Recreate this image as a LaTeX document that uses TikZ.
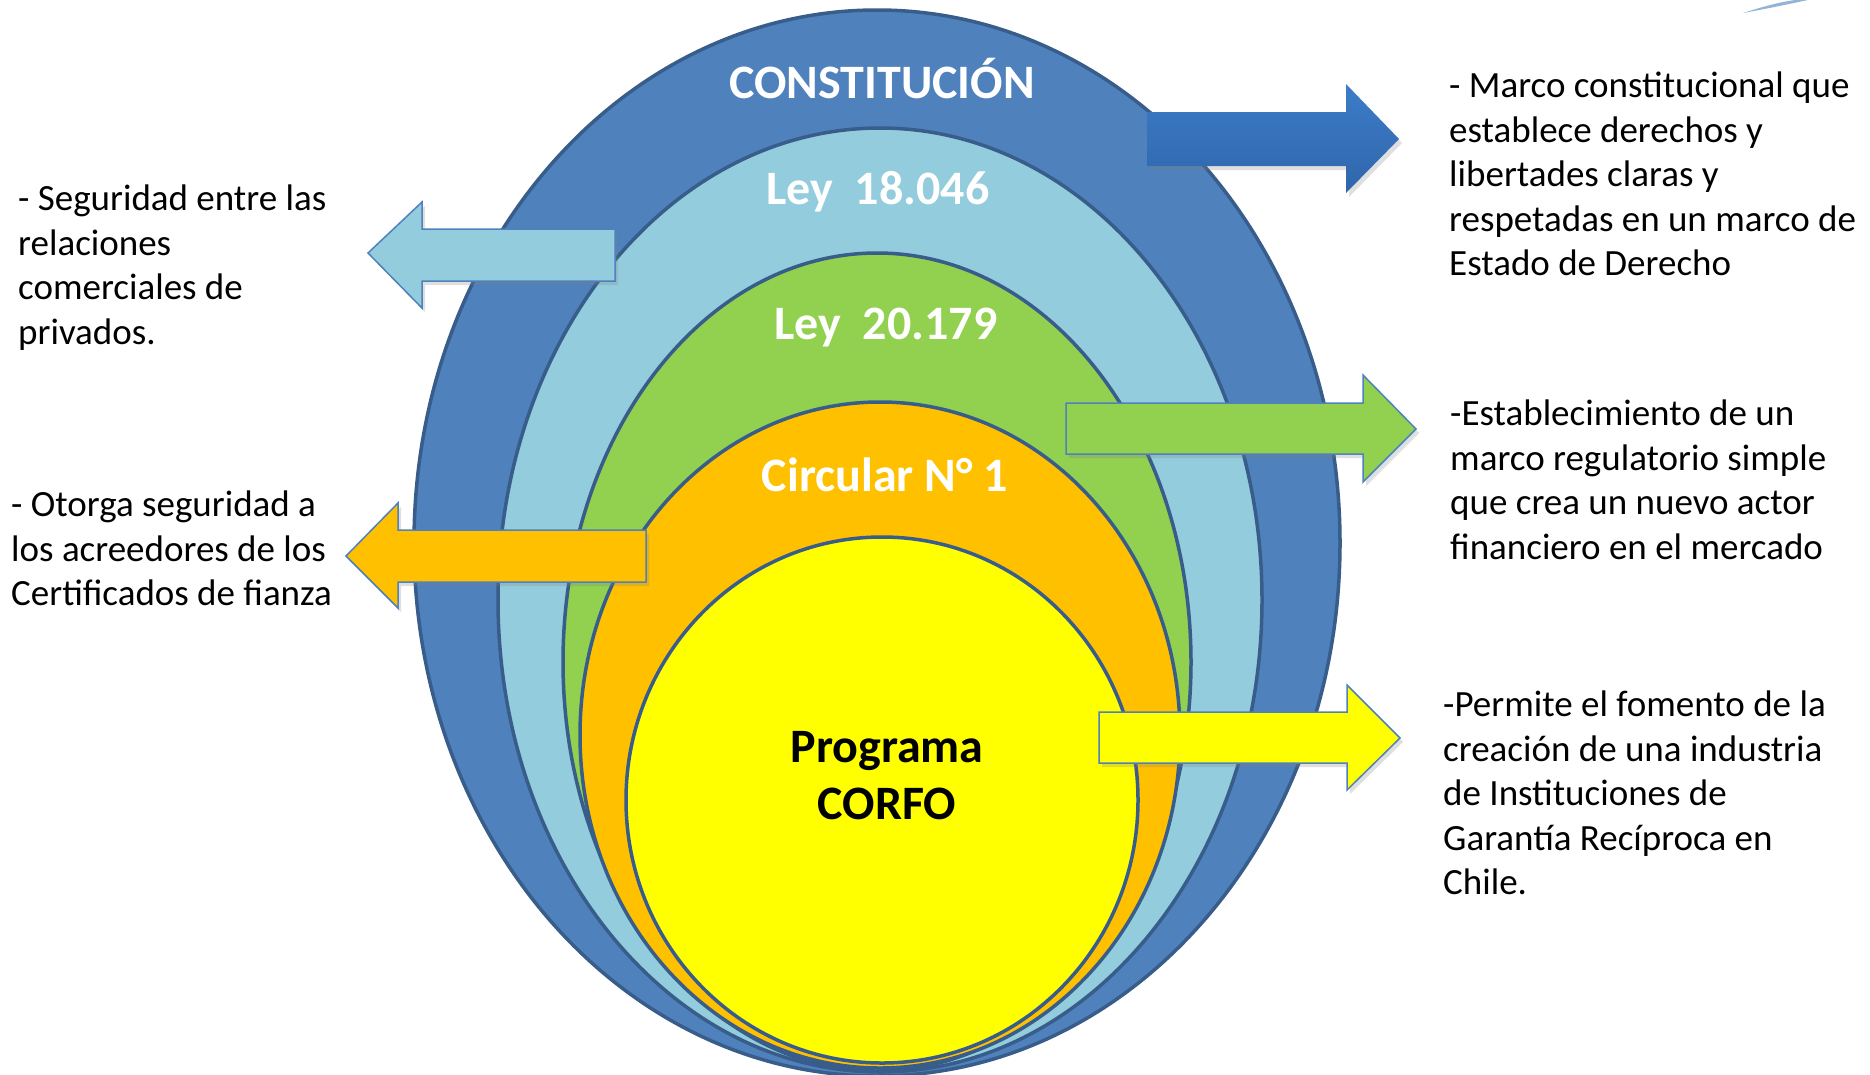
\documentclass[tikz,border=0pt]{standalone}
\usepackage{fontspec}
\setmainfont{Carlito}
\usetikzlibrary{shadows}
\definecolor{azul}{HTML}{4F81BD}
\definecolor{celeste}{HTML}{93CDDD}
\definecolor{verde}{HTML}{92D050}
\definecolor{naranjo}{HTML}{FFC000}
\definecolor{amarillo}{HTML}{FFFF00}
\definecolor{borde}{HTML}{385D8A}
\definecolor{azulsup}{HTML}{3D7CC9}
\definecolor{azulinf}{HTML}{2F66AA}

\begin{document}
\begin{tikzpicture}[x=1pt,y=-1pt,
  capa/.style={draw=borde,line width=3.5pt},
  flecha/.style={draw=azul,line width=1.5pt,line join=miter,
    drop shadow={opacity=0.25,shadow xshift=3pt,shadow yshift=-4pt}},
  titulo/.style={font=\fontsize{48}{57}\selectfont\bfseries,text=white},
  texto/.style={font=\fontsize{37}{44.5}\selectfont,align=left,anchor=north west,inner sep=0pt}]
\clip (0,0) rectangle (1870,1074);
\useasboundingbox (0,0) rectangle (1870,1074);
% capas
\draw[capa,fill=azul] (877,543) ellipse [x radius=463,y radius=533];
\draw[capa,fill=celeste] (880,600) ellipse [x radius=382,y radius=472];
\draw[capa,fill=verde] (877,662) ellipse [x radius=314,y radius=409];
\draw[capa,fill=naranjo] (880,735) ellipse [x radius=300,y radius=333];
\draw[capa,fill=amarillo] (882,800) ellipse [x radius=256,y radius=263];
\node[titulo] (constitucion) at (882,79) {CONSTITUCIÓN};
\node[titulo] (ley1) at (878,192) {Ley\ \ 18.046};
\node[titulo] (ley2) at (886,328) {Ley\ \ 20.179};
\node[titulo] (circular) at (885,475) {Circular N° 1};
\node[titulo,text=black,align=center] (corfo) at (887,776) {Programa\\CORFO};
% flechas
\draw[flecha,draw=none,top color=azulsup,bottom color=azulinf]
  (1147,112) -- (1346,112) -- (1346,84) -- (1399,139) -- (1346,193) -- (1346,166) -- (1147,166) -- cycle;
\draw[flecha,fill=celeste]
  (615,229) -- (422,229) -- (422,202) -- (368,253) -- (422,308) -- (422,281) -- (615,281) -- cycle;
\draw[flecha,fill=verde]
  (1066,403) -- (1363,403) -- (1363,375) -- (1416,429) -- (1363,482) -- (1363,454) -- (1066,454) -- cycle;
\draw[flecha,fill=naranjo]
  (646,530) -- (398,530) -- (398,503) -- (346,556) -- (398,608) -- (398,582) -- (646,582) -- cycle;
\draw[flecha,fill=amarillo]
  (1099,712) -- (1347,712) -- (1347,685) -- (1400,738) -- (1347,790) -- (1347,763) -- (1099,763) -- cycle;
% textos
\node[texto] (marco) at (1449,72) {- Marco constitucional que\\establece derechos y\\libertades claras y\\respetadas en un marco de\\Estado de Derecho};
\node[texto] (regulatorio) at (1450,400) {-Establecimiento de un\\marco regulatorio simple\\que crea un nuevo actor\\financiero en el mercado};
\node[texto] (fomento) at (1443,691) {-Permite el fomento de la\\creación de una industria\\de Instituciones de\\Garantía Recíproca en\\Chile.};
\node[texto] (seguridad) at (18,185) {- Seguridad entre las\\relaciones\\comerciales de\\privados.};
\node[texto] (acreedores) at (11,491) {- Otorga seguridad a\\los acreedores de los\\Certificados de fianza};
% trazo esquina
\fill[azul,opacity=0.6] (1743,13) .. controls (1765,6) and (1780,2) .. (1795,0) -- (1808,0) .. controls (1785,5) and (1765,9) .. (1743,13);
\end{tikzpicture}
\end{document}
